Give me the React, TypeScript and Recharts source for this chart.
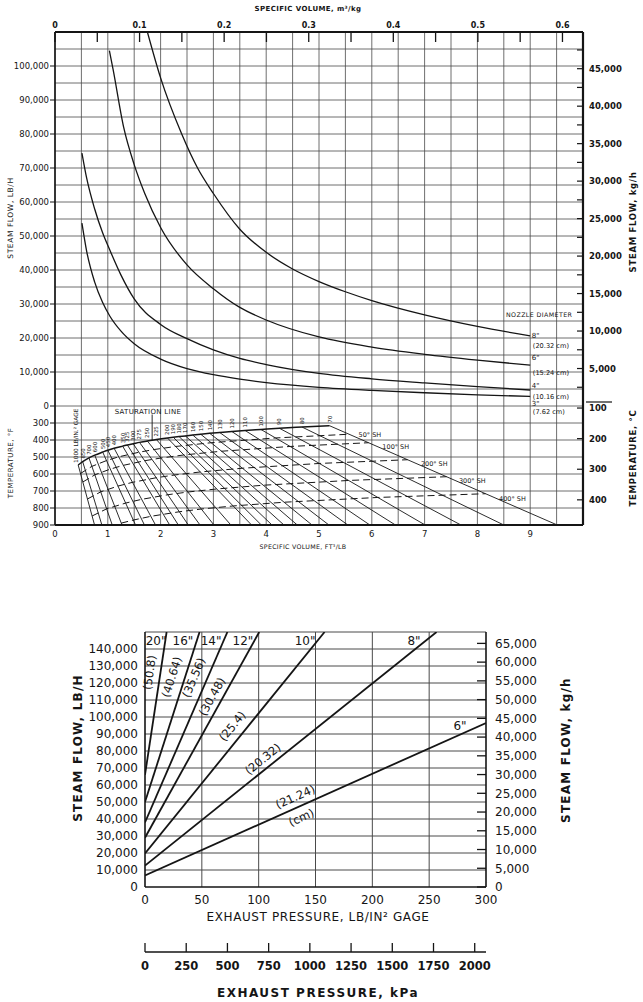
import React from "react";
import { LineChart, Line, XAxis, YAxis, CartesianGrid, ReferenceDot, ReferenceLine } from "recharts";

const FONT = "'DejaVu Sans', 'Liberation Sans', sans-serif";
const INK = "#151515";
const GRID = "#4a4a4a";

// ---------- upper chart: steam flow against specific volume ----------
const volTicks = [0, 1, 2, 3, 4, 5, 6, 7, 8, 9];
const m3Ticks = [0, 0.05, 0.1, 0.15, 0.2, 0.25, 0.3, 0.35, 0.4, 0.45, 0.5, 0.55, 0.6];
const flowTicks = [0, 10000, 20000, 30000, 40000, 50000, 60000, 70000, 80000, 90000, 100000];
const tempFTicks = [300, 400, 500, 600, 700, 800, 900];
const kgTicks = [2500, 5000, 7500, 10000, 12500, 15000, 17500, 20000, 22500, 25000, 27500, 30000, 32500, 35000, 37500, 40000, 42500, 45000, 47500];
const degCTicks = [100, 200, 300, 400];

const n8Vol = [1.75, 2.0, 2.4, 2.7, 3.0, 3.5, 4.0, 4.5, 5.0, 5.5, 6.0, 7.0, 8.0, 9.0];
const n8Flow = [110000, 96500, 80000, 70000, 62500, 52000, 45200, 40300, 36600, 33600, 31000, 26800, 23400, 20600];
const n6Vol = [1.03, 1.1, 1.3, 1.5, 1.7, 2.0, 2.5, 3.0, 3.5, 4.0, 5.0, 6.0, 7.0, 8.0, 9.0];
const n6Flow = [104500, 99000, 82000, 71000, 62500, 52500, 41500, 34500, 29000, 25300, 20300, 17300, 15200, 13500, 12000];
const n4Vol = [0.51, 0.6, 0.75, 0.9, 1.04, 1.25, 1.5, 2.0, 2.5, 3.0, 3.5, 4.0, 5.0, 6.0, 7.0, 8.0, 9.0];
const n4Flow = [74400, 67000, 58000, 51000, 45800, 38500, 31500, 24000, 19800, 16500, 14000, 12200, 9600, 8000, 6800, 5700, 4700];
const n3Vol = [0.51, 0.6, 0.75, 0.9, 1.04, 1.25, 1.5, 2.0, 2.5, 3.0, 3.5, 4.0, 5.0, 6.0, 7.0, 8.0, 9.0];
const n3Flow = [53800, 45500, 36500, 30500, 26400, 22000, 18300, 13800, 11000, 9200, 7900, 6900, 5500, 4600, 3900, 3300, 2800];

// saturation line and constant-pressure lines (psig), volume at saturation and at 900 F
const pressures = [1000, 850, 700, 600, 500, 450, 400, 350, 325, 300, 275, 250, 225, 200, 190, 180, 170, 160, 150, 140, 130, 120, 110, 100, 90, 80, 70];
const satVol = [0.439, 0.524, 0.643, 0.753, 0.903, 1.0, 1.12, 1.28, 1.37, 1.48, 1.6, 1.75, 1.92, 2.13, 2.24, 2.35, 2.47, 2.61, 2.76, 2.93, 3.12, 3.35, 3.6, 3.9, 4.25, 4.68, 5.2];
const satTemp = [547, 527, 505, 489, 471, 460, 449, 436, 429, 422, 414, 406, 397, 388, 384, 380, 376, 371, 366, 361, 356, 350, 344, 338, 331, 324, 316];
const vol900 = [0.749, 0.888, 1.084, 1.269, 1.525, 1.694, 1.904, 2.172, 2.336, 2.525, 2.747, 3.011, 3.331, 3.723, 3.908, 4.11, 4.336, 4.589, 4.868, 5.188, 5.546, 5.964, 6.448, 7.011, 7.688, 8.5, 9.513];

// superheat lines (dashed)
const shNames = ["50° SH", "100° SH", "200° SH", "300° SH", "400° SH"];
const shVol = [
  [0.483, 0.699, 0.976, 1.207, 1.589, 1.878, 2.286, 2.957, 4.177, 5.569],
  [0.527, 0.755, 1.048, 1.294, 1.699, 2.005, 2.441, 3.155, 4.454, 5.939],
  [0.615, 0.866, 1.193, 1.468, 1.917, 2.261, 2.752, 3.55, 5.007, 6.677],
  [0.703, 0.978, 1.338, 1.642, 2.136, 2.516, 3.063, 3.944, 5.561, 7.416],
  [1.255, 1.483, 1.815, 2.355, 2.771, 3.375, 4.339, 6.114, 8.154],
];
const shTemp = [
  [597, 555, 521, 499, 472, 456, 438, 416, 388, 366],
  [647, 605, 571, 549, 522, 506, 488, 466, 438, 416],
  [747, 705, 671, 649, 622, 606, 588, 566, 538, 516],
  [847, 805, 771, 749, 722, 706, 688, 666, 638, 616],
  [889, 871, 849, 822, 806, 788, 766, 738, 716],
];

// ---------- lower chart: steam flow against exhaust pressure ----------
const psiTicks = [0, 50, 100, 150, 200, 250, 300];
const kpaTicks = [0, 250, 500, 750, 1000, 1250, 1500, 1750, 2000];
const lbTicks = [0, 10000, 20000, 30000, 40000, 50000, 60000, 70000, 80000, 90000, 100000, 110000, 120000, 130000, 140000];
const kghTicks = [0, 5000, 10000, 15000, 20000, 25000, 30000, 35000, 40000, 45000, 50000, 55000, 60000, 65000];
const nozzleSizes = ['20"', '16"', '14"', '12"', '10"', '8"', '6"'];
const nozzleMetric = ["(50.8)", "(40.64)", "(35.56)", "(30.48)", "(25.4)", "(20.32)", "(21.24)"];
const exhaustPsi = [[0, 19], [0, 48], [0, 72.5], [0, 100.5], [0, 158], [0, 256.5], [0, 300]];
const exhaustFlow = [[66000, 150000], [50000, 150000], [38000, 150000], [29000, 150000], [19800, 150000], [12600, 150000], [6800, 96500]];

const LB_PER_KG = 2.20462;
const FT3LB_PER_M3KG = 16.0185;
const KPA_PER_PSI = 6.89476;
const M3_MAX = 10 / FT3LB_PER_M3KG;
const KPA_MAX = 300 * KPA_PER_PSI;
// the temperature band shares the flow axis: 100 F per 5,000 lb/h, 300 F sitting at -5,000
const fToFlow = (f: number) => (200 - f) * 50;

const zip = (xs: number[], ys: number[], kx: string, ky: string) => xs.map((x, i) => ({ [kx]: x, [ky]: ys[i] }));
const fmt = (n: number) => n.toLocaleString("en-US");

const leftTicks = [...flowTicks, ...tempFTicks.map(fToFlow)];
const leftLabel = (v: number) => (v >= 0 ? fmt(v) : String(Math.round(200 - v / 50)));

const rightTickList = [
  ...kgTicks.map((k) => ({ value: k * LB_PER_KG, label: k % 5000 === 0 && k <= 45000 ? fmt(k) : "" })),
  ...degCTicks.map((c) => ({ value: fToFlow(c * 1.8 + 32), label: String(c) })),
];
const rightLabelMap = new Map(rightTickList.map((t) => [t.value, t.label]));

const volGrid = Array.from({ length: 21 }, (_, i) => i * 0.5);
const flowGrid = Array.from({ length: 30 }, (_, i) => -35000 + i * 5000);

const m3Label = (v: number) => {
  const r = Math.round(v * 100);
  if (r % 10 !== 0) return "";
  return r === 0 ? "0" : (r / 100).toFixed(1);
};

type TagOpts = {
  xId: string; yId: string; size?: number; angle?: number; anchor?: "start" | "middle" | "end";
  dx?: number; dy?: number; weight?: number; spacing?: number; baseline?: "central" | "auto";
};

function tag(key: string, x: number, y: number, text: string, o: TagOpts) {
  const { xId, yId, size = 7, angle = 0, anchor = "start", dx = 0, dy = 0, weight = 400, spacing = 0, baseline = "auto" } = o;
  return (
    <ReferenceDot
      key={key}
      x={x}
      y={y}
      xAxisId={xId}
      yAxisId={yId}
      r={0}
      ifOverflow="visible"
      shape={(p: any) => {
        const tx = p.cx + dx;
        const ty = p.cy + dy;
        return (
          <text x={tx} y={ty} fontSize={size} fontFamily={FONT} fontWeight={weight} letterSpacing={spacing}
            fill={INK} textAnchor={anchor} dominantBaseline={baseline}
            transform={angle ? `rotate(${angle} ${tx} ${ty})` : undefined}>
            {text}
          </text>
        );
      }}
    />
  );
}

// nudge a rotated label off its line, along the text's "up" direction
const lift = (angle: number, d: number) => {
  const r = (angle * Math.PI) / 180;
  return { dx: d * Math.sin(r), dy: -d * Math.cos(r) };
};

const small = { fontSize: 8.5, fill: INK, fontFamily: FONT };

function UpperChart() {
  const nozzles = [
    { vol: n8Vol, flow: n8Flow },
    { vol: n6Vol, flow: n6Flow },
    { vol: n4Vol, flow: n4Flow },
    { vol: n3Vol, flow: n3Flow },
  ];
  const U = { xId: "v", yId: "flow" };
  const T = { xId: "v", yId: "temp" };
  return (
    <LineChart width={643} height={560} margin={{ top: 0, right: 0, bottom: 0, left: 0 }}>
      <CartesianGrid xAxisId="v" yAxisId="flow" stroke={GRID} strokeWidth={0.8} verticalValues={volGrid} horizontalValues={flowGrid} />
      <XAxis xAxisId="v" dataKey="v" type="number" domain={[0, 10]} allowDataOverflow ticks={volTicks} interval={0}
        orientation="bottom" height={35} tickLine={false} tickSize={0} tickMargin={6}
        axisLine={{ stroke: INK, strokeWidth: 1.8 }} tick={small} />
      <XAxis xAxisId="m3" dataKey="m" type="number" domain={[0, M3_MAX]} allowDataOverflow ticks={m3Ticks} interval={0}
        orientation="top" height={32} tickSize={-10} tickMargin={14} tickFormatter={m3Label}
        axisLine={{ stroke: INK, strokeWidth: 2.2 }} tickLine={{ stroke: INK, strokeWidth: 1.3 }} tick={{ ...small, fontSize: 8, fontWeight: 600 }} />
      <YAxis yAxisId="flow" type="number" domain={[-35000, 110000]} allowDataOverflow ticks={leftTicks} interval={0}
        width={55} tickSize={5} tickMargin={1} tickFormatter={leftLabel}
        axisLine={{ stroke: INK, strokeWidth: 1.6 }} tickLine={{ stroke: INK }} tick={small} />
      <YAxis yAxisId="right" orientation="right" type="number" domain={[-35000, 110000]} allowDataOverflow
        ticks={rightTickList.map((t) => t.value)} interval={0} width={60} tickSize={-6} tickMargin={12}
        tickFormatter={(v: number) => rightLabelMap.get(v) ?? ""}
        axisLine={{ stroke: INK, strokeWidth: 2.2 }} tickLine={{ stroke: INK, strokeWidth: 1.2 }} tick={{ ...small, fontWeight: 600 }} />
      <YAxis yAxisId="temp" hide type="number" domain={[-2000, 900]} reversed allowDataOverflow />

      {/* carries the metric scale so its ticks get drawn; no stroke */}
      <Line xAxisId="m3" yAxisId="flow" data={[{ m: 0, f: 0 }, { m: M3_MAX, f: 0 }]} dataKey="f"
        stroke="none" dot={false} activeDot={false} isAnimationActive={false} legendType="none" />

      {nozzles.map((n, i) => (
        <Line key={`noz${i}`} xAxisId="v" yAxisId="flow" data={zip(n.vol, n.flow, "v", "f")} dataKey="f"
          type="monotone" stroke={INK} strokeWidth={1.3} dot={false} isAnimationActive={false} />
      ))}

      {pressures.map((p, i) => (
        <Line key={`p${p}`} xAxisId="v" yAxisId="temp"
          data={[{ v: satVol[i], t: satTemp[i] }, { v: vol900[i], t: 900 }]} dataKey="t"
          type="linear" stroke={INK} strokeWidth={0.9} dot={false} isAnimationActive={false} />
      ))}
      {shVol.map((vs, i) => (
        <Line key={`sh${i}`} xAxisId="v" yAxisId="temp" data={zip(vs, shTemp[i], "v", "t")} dataKey="t"
          type="linear" stroke={INK} strokeWidth={1} strokeDasharray="7 4" dot={false} isAnimationActive={false} />
      ))}
      <Line xAxisId="v" yAxisId="temp" data={zip(satVol, satTemp, "v", "t")} dataKey="t"
        type="monotone" stroke={INK} strokeWidth={1.5} dot={false} isAnimationActive={false} />

      <ReferenceLine xAxisId="v" yAxisId="temp" segment={[{ x: 1.84, y: 250 }, { x: 1.84, y: 400 }]} stroke={INK} strokeWidth={0.9} />
      {tag("satl", 1.76, 248, "SATURATION LINE", { ...T, size: 7, anchor: "middle", spacing: 0.3 })}
      {tag("p1000", satVol[0], satTemp[0], "1000 LB/IN.² GAGE", { ...T, size: 5.8, angle: -90, dx: 0, dy: -2 })}
      {pressures.slice(1).map((p, i) =>
        tag(`pl${p}`, satVol[i + 1], satTemp[i + 1], String(p), { ...T, size: 5.4, angle: -90, dx: 2, dy: -3 })
      )}
      {tag("sh0", 5.75, 381, shNames[0], { ...T, size: 6.5 })}
      {tag("sh1", 6.2, 451, shNames[1], { ...T, size: 6.5 })}
      {tag("sh2", 6.93, 551, shNames[2], { ...T, size: 6.5 })}
      {tag("sh3", 7.65, 651, shNames[3], { ...T, size: 6.5 })}
      {tag("sh4", 8.41, 757, shNames[4], { ...T, size: 6.5 })}

      {tag("nd", 9.17, 26200, "NOZZLE DIAMETER", { ...U, size: 6.3, anchor: "middle", spacing: 0.4 })}
      {tag("n8", 9.03, 20000, '8"', { ...U, size: 7 })}
      {tag("n8c", 9.05, 17060, "(20.32 cm)", { ...U, size: 6.6 })}
      {tag("n6", 9.03, 13530, '6"', { ...U, size: 7 })}
      {tag("n6c", 9.05, 9120, "(15.24 cm)", { ...U, size: 6.6 })}
      {tag("n4", 9.03, 5290, '4"', { ...U, size: 7 })}
      {tag("n4c", 9.05, 2060, "(10.16 cm)", { ...U, size: 6.6 })}
      {tag("n3", 9.03, 0, '3"', { ...U, size: 7 })}
      {tag("n3c", 9.05, -2350, "(7.62 cm)", { ...U, size: 6.6 })}
    </LineChart>
  );
}

const big = { fontSize: 12, fill: INK, fontFamily: FONT };

function LowerChart() {
  const L = { xId: "x1", yId: "lb" };
  const topLabelX = [9.7, 33.4, 58.1, 86.2, 140.8, 236.7];
  const metricPos = [[7.0, 125900, -82], [26.4, 122900, -72], [45.7, 122350, -67], [61.6, 111000, -61], [79.2, 93350, -51], [105.6, 73700, -39], [133.5, 51200, -24]];
  return (
    <LineChart width={643} height={402} margin={{ top: 32, right: 0, bottom: 0, left: 0 }}>
      <CartesianGrid xAxisId="x1" yAxisId="lb" stroke={GRID} strokeWidth={1}
        verticalValues={[50, 100, 150, 200, 250]}
        horizontalValues={[10000, 20000, 30000, 40000, 50000, 60000, 70000, 80000, 90000, 100000, 110000, 120000, 130000, 140000, 150000]} />
      <XAxis xAxisId="x1" dataKey="p" type="number" domain={[0, 300]} allowDataOverflow ticks={psiTicks} interval={0}
        height={65} tickLine={false} tickSize={0} tickMargin={8} axisLine={{ stroke: INK, strokeWidth: 1.6 }} tick={big} />
      <XAxis xAxisId="x2" dataKey="k" type="number" domain={[0, KPA_MAX]} allowDataOverflow ticks={kpaTicks} interval={0}
        height={50} tickSize={-9} tickMargin={19} axisLine={{ stroke: INK, strokeWidth: 1.6 }}
        tickLine={{ stroke: INK, strokeWidth: 1.3 }} tick={{ ...big, fontSize: 11.5, fontWeight: 600 }} />
      <YAxis yAxisId="lb" type="number" domain={[0, 150000]} allowDataOverflow ticks={lbTicks} interval={0}
        width={145} tickSize={0} tickMargin={7} tickLine={false} tickFormatter={fmt}
        axisLine={{ stroke: INK, strokeWidth: 1.6 }} tick={big} />
      <YAxis yAxisId="kg" orientation="right" type="number" domain={[0, 150000 / LB_PER_KG]} allowDataOverflow
        ticks={kghTicks} interval={0} width={157} tickSize={-9} tickMargin={18} tickFormatter={fmt}
        axisLine={{ stroke: INK, strokeWidth: 1.6 }} tickLine={{ stroke: INK, strokeWidth: 1.3 }} tick={big} />

      {/* carries the kPa scale so its ticks get drawn; no stroke */}
      <Line xAxisId="x2" yAxisId="lb" data={[{ k: 0, f: 0 }, { k: KPA_MAX, f: 0 }]} dataKey="f"
        stroke="none" dot={false} activeDot={false} isAnimationActive={false} legendType="none" />

      {exhaustPsi.map((ps, i) => (
        <Line key={`ex${i}`} xAxisId="x1" yAxisId="lb" data={zip(ps, exhaustFlow[i], "p", "f")} dataKey="f"
          type="linear" stroke={INK} strokeWidth={1.8} dot={false} isAnimationActive={false} />
      ))}

      {topLabelX.map((x, i) => tag(`in${i}`, x, 142350, nozzleSizes[i], { ...L, size: 12, anchor: "middle" }))}
      {tag("in6", 277.1, 92350, nozzleSizes[6], { ...L, size: 12, anchor: "middle" })}
      {metricPos.map(([x, y, a], i) =>
        tag(`cm${i}`, x, y, nozzleMetric[i], { ...L, size: 11.5, anchor: "middle", angle: a, baseline: "central", weight: 500, ...lift(a, 3.5) })
      )}
      {tag("cmu", 137.9, 40400, "(cm)", { ...L, size: 11.5, anchor: "middle", angle: -24, baseline: "central", weight: 500, ...lift(-24, 1) })}
    </LineChart>
  );
}

function Titles() {
  const t = (x: number, y: number, s: string, size: number, opts: any = {}) => (
    <text x={x} y={y} fontSize={size} fontFamily={FONT} fill={INK} textAnchor="middle"
      letterSpacing={opts.spacing ?? 0.5} fontWeight={opts.weight ?? 400}
      transform={opts.rot ? `rotate(-90 ${x} ${y})` : undefined}>{s}</text>
  );
  return (
    <svg width={643} height={1002} style={{ position: "absolute", left: 0, top: 0, pointerEvents: "none" }}>
      {t(308, 11, "SPECIFIC VOLUME, m³/kg", 7, { spacing: 0.4, weight: 600 })}
      {t(13, 218, "STEAM FLOW, LB/H", 7.5, { rot: true, spacing: 0.6 })}
      {t(13, 463, "TEMPERATURE, °F", 7, { rot: true, spacing: 0.5 })}
      {t(636, 222, "STEAM FLOW, kg/h", 8.5, { rot: true, spacing: 0.7, weight: 600 })}
      {t(636, 458, "TEMPERATURE, °C", 8.5, { rot: true, spacing: 0.7, weight: 600 })}
      {t(303, 549, "SPECIFIC VOLUME, FT³/LB", 6.3, { spacing: 0.3 })}
      <line x1={586} x2={612} y1={402} y2={402} stroke={INK} strokeWidth={1.2} />

      {t(82, 748, "STEAM FLOW, LB/H", 12, { rot: true, spacing: 1.2, weight: 600 })}
      {t(570, 750, "STEAM FLOW, kg/h", 12, { rot: true, spacing: 1.2, weight: 600 })}
      {t(318, 921, "EXHAUST PRESSURE, LB/IN² GAGE", 12, { spacing: 0.6 })}
      {t(318, 997, "EXHAUST PRESSURE, kPa", 12, { spacing: 1.5, weight: 600 })}
    </svg>
  );
}

export default function App() {
  return (
    <div style={{ position: "absolute", left: 0, top: 0, width: 643, height: 1002, background: "#fff" }}>
      <div style={{ position: "absolute", left: 0, top: 0 }}>
        <UpperChart />
      </div>
      <div style={{ position: "absolute", left: 0, top: 600 }}>
        <LowerChart />
      </div>
      <Titles />
    </div>
  );
}
